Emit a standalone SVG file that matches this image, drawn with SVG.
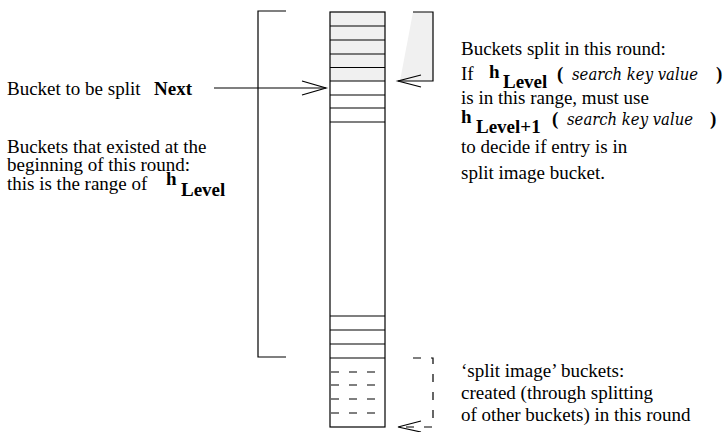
<svg xmlns="http://www.w3.org/2000/svg" width="724" height="432" viewBox="0 0 724 432">
<style>
.t{font-family:"Liberation Serif","Times New Roman",serif;font-size:19px;fill:#000}
.b{font-weight:bold}
.i{font-family:"DejaVu Serif","Liberation Serif",serif;font-style:italic;font-size:17px}
.ln{stroke:#000;stroke-width:1.2;fill:none}
.dl{stroke:#000;stroke-width:1.2;fill:none;stroke-dasharray:8 10}
</style>
<rect width="724" height="432" fill="#fff"/>
<g id="bucket-column">
<rect x="330" y="12" width="55" height="69" fill="#f0f0f0"/>
<rect x="330" y="12" width="55" height="415" class="ln"/>
<path class="ln" d="M330 26H385M330 40H385M330 54H385M330 67.5H385M330 81H385M330 95H385M330 108H385M330 122H385M330 316H385M330 330H385M330 344H385M330 358H385"/>
<path class="dl" d="M331 372H385M331 385H385M331 399H385M331 413H385"/>
</g>
<g id="range-bracket">
<polyline class="ln" points="286,11 258,11 258,357 286,357"/>
</g>
<g id="split-label">
<text class="t" x="7" y="95">Bucket to be split</text>
<text class="t b" x="154" y="95">Next</text>
</g>
<g id="existed-label">
<text class="t" x="7" y="153">Buckets that existed at the</text>
<text class="t" x="7" y="171">beginning of this round:</text>
<text class="t" x="7" y="190">this is the range of</text>
<text class="t b" x="166" y="185">h</text>
<text class="t b" x="181" y="196">Level</text>
</g>
<g id="split-round-label">
<text class="t" x="461" y="55">Buckets split in this round:</text>
<text class="t" x="461" y="80">If</text>
<text class="t b" x="489" y="78">h</text>
<text class="t b" x="503" y="88">Level</text>
<text class="t b" x="557" y="80">(</text>
<text class="i" x="572" y="80" textLength="126" lengthAdjust="spacingAndGlyphs">search key value</text>
<text class="t b" x="716" y="80">)</text>
<text class="t" x="461" y="104">is in this range, must use</text>
<text class="t b" x="461" y="123">h</text>
<text class="t b" x="476" y="133">Level+1</text>
<text class="t b" x="552" y="125">(</text>
<text class="i" x="567" y="125" textLength="126" lengthAdjust="spacingAndGlyphs">search key value</text>
<text class="t b" x="710" y="125">)</text>
<text class="t" x="461" y="153">to decide if entry is in</text>
<text class="t" x="461" y="179">split image bucket.</text>
</g>
<g id="image-label">
<text class="t" x="461" y="377">‘split image’ buckets:</text>
<text class="t" x="461" y="399">created (through splitting</text>
<text class="t" x="461" y="421">of other buckets) in this round</text>
</g>
<g id="connectors">
<line class="ln" x1="214" y1="88" x2="326" y2="88"/>
<polyline class="ln" points="302,81 326,88 302,95"/>
<polygon points="413,12 433,12 433,81 400,81" fill="#f0f0f0"/>
<polyline class="ln" points="413,12 433,12 433,81 398,81"/>
<polyline class="ln" points="421,75 398,81 421,87"/>
<polyline class="dl" points="413,358 433,358 433,427 398,427"/>
<polyline class="ln" points="421,421 398,427 421,432"/>
</g>
</svg>
